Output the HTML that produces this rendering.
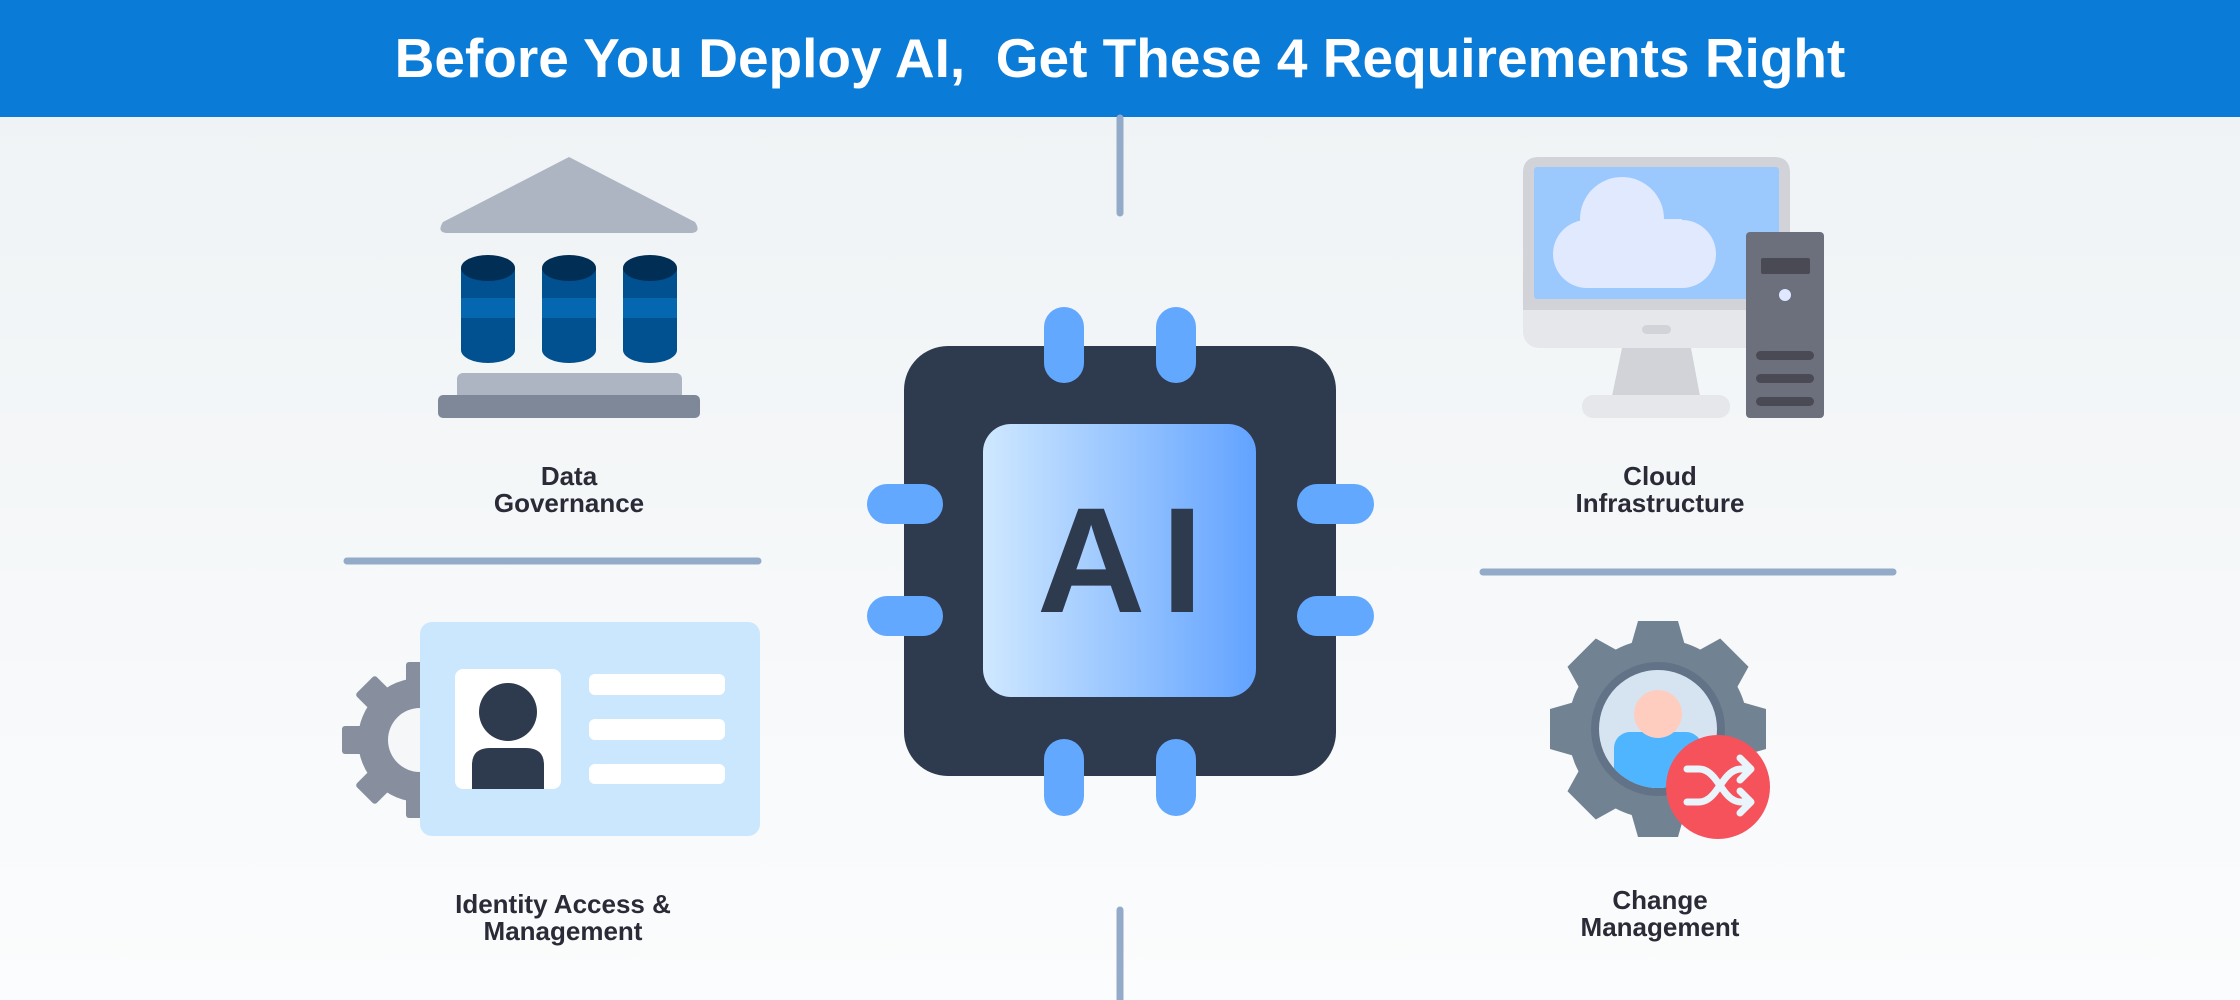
<!DOCTYPE html>
<html><head><meta charset="utf-8"><style>
html,body{margin:0;padding:0}
body{width:2240px;height:1000px;overflow:hidden;background:linear-gradient(#eef2f4,#fbfcfd);font-family:"Liberation Sans",sans-serif;position:relative}
.hdr{position:absolute;left:0;top:0;width:2240px;height:117px;background:#0a7bd7;color:#fff;font-weight:bold;font-size:55px;text-align:center;line-height:117px}
.lbl{position:absolute;width:400px;text-align:center;font-weight:bold;font-size:26px;line-height:27px;color:#2b2b38}
</style></head><body>
<div class="hdr">Before You Deploy AI,&nbsp; Get These 4 Requirements Right</div>
<svg width="2240" height="1000" style="position:absolute;left:0;top:0">
<defs><linearGradient id="g" x1="0" x2="1"><stop offset="0" stop-color="#cfe8ff"/><stop offset="1" stop-color="#62a3ff"/></linearGradient></defs>
<g stroke="#93abc8" stroke-width="7" stroke-linecap="round">
<line x1="1120" y1="118" x2="1120" y2="213"/><line x1="1120" y1="910" x2="1120" y2="1000"/>
<line x1="347" y1="561" x2="758" y2="561"/><line x1="1483" y1="572" x2="1893" y2="572"/>
</g>
<rect x="904" y="346" width="432" height="430" rx="44" fill="#2e3b4e"/>
<!-- chip pins -->
<g fill="#62a8ff">
<rect x="1044" y="307" width="40" height="76" rx="20"/><rect x="1156" y="307" width="40" height="76" rx="20"/>
<rect x="1044" y="739" width="40" height="77" rx="20"/><rect x="1156" y="739" width="40" height="77" rx="20"/>
<rect x="867" y="484" width="76" height="40" rx="20"/><rect x="867" y="596" width="76" height="40" rx="20"/>
<rect x="1297" y="484" width="77" height="40" rx="20"/><rect x="1297" y="596" width="77" height="40" rx="20"/>
</g>
<rect x="983" y="424" width="273" height="273" rx="28" fill="url(#g)"/>
<text x="1128" y="612" text-anchor="middle" font-family="Liberation Sans" font-weight="bold" font-size="150" letter-spacing="16" fill="#2e3b4e">AI</text>
<!-- data governance -->
<path d="M569 157 L695 222 Q702 233 690 233 L448 233 Q436 233 443 222 Z" fill="#aeb5c2"/>
<g>
<g transform="translate(488,0)"><rect x="-27" y="268" width="54" height="82" fill="#01508f"/><rect x="-27" y="298" width="54" height="20" fill="#0567b0"/><ellipse cx="0" cy="350" rx="27" ry="13" fill="#01508f"/><ellipse cx="0" cy="268" rx="27" ry="13" fill="#012e55"/></g>
<g transform="translate(569,0)"><rect x="-27" y="268" width="54" height="82" fill="#01508f"/><rect x="-27" y="298" width="54" height="20" fill="#0567b0"/><ellipse cx="0" cy="350" rx="27" ry="13" fill="#01508f"/><ellipse cx="0" cy="268" rx="27" ry="13" fill="#012e55"/></g>
<g transform="translate(650,0)"><rect x="-27" y="268" width="54" height="82" fill="#01508f"/><rect x="-27" y="298" width="54" height="20" fill="#0567b0"/><ellipse cx="0" cy="350" rx="27" ry="13" fill="#01508f"/><ellipse cx="0" cy="268" rx="27" ry="13" fill="#012e55"/></g>
</g>
<rect x="457" y="373" width="225" height="28" rx="6" fill="#aeb5c2"/>
<rect x="438" y="395" width="262" height="23" rx="5" fill="#7e8899"/>
<!-- cloud infra -->
<rect x="1523" y="157" width="267" height="191" rx="16" fill="#e6e7ea"/>
<path d="M1523 310 V173 Q1523 157 1539 157 H1774 Q1790 157 1790 173 V310 Z" fill="#d2d3d9"/>
<rect x="1534" y="167" width="245" height="132" rx="3" fill="#9bc9fd"/>
<g fill="#e0e9fe"><circle cx="1622" cy="219" r="42"/><circle cx="1682" cy="254" r="34"/><circle cx="1587" cy="254" r="34"/><rect x="1587" y="219" width="95" height="69"/></g>
<rect x="1642" y="325" width="29" height="9" rx="4.5" fill="#d2d3d9"/>
<path d="M1622 348 H1691 L1700 396 H1612 Z" fill="#d2d3d9"/>
<rect x="1582" y="395" width="148" height="23" rx="11" fill="#e6e7ea"/>
<rect x="1746" y="232" width="78" height="186" rx="4" fill="#6c6f7c"/>
<rect x="1761" y="258" width="49" height="16" rx="2" fill="#4a4a55"/>
<circle cx="1785" cy="295" r="6" fill="#e0e8ff"/>
<g fill="#4a4a55"><rect x="1756" y="351" width="58" height="9" rx="4.5"/><rect x="1756" y="374" width="58" height="9" rx="4.5"/><rect x="1756" y="397" width="58" height="9" rx="4.5"/></g>
<!-- identity gear -->
<g transform="translate(420,740)" fill="#878f9e">
<circle r="62"/>
<g id="t"><rect x="-14" y="-78" width="28" height="24" rx="3"/></g>
<use href="#t" transform="rotate(45)"/><use href="#t" transform="rotate(90)"/><use href="#t" transform="rotate(135)"/><use href="#t" transform="rotate(180)"/><use href="#t" transform="rotate(225)"/><use href="#t" transform="rotate(270)"/><use href="#t" transform="rotate(315)"/>
<circle r="32" fill="#f5f7f8"/>
</g>
<rect x="420" y="622" width="340" height="214" rx="12" fill="#cbe7fe"/>
<rect x="455" y="669" width="106" height="120" rx="8" fill="#fff"/>
<circle cx="508" cy="712" r="29" fill="#2e3b4e"/>
<path d="M472 789 V765 Q472 748 490 748 H526 Q544 748 544 765 V789 Z" fill="#2e3b4e"/>
<g fill="#fff"><rect x="589" y="674" width="136" height="21" rx="6"/><rect x="589" y="719" width="136" height="21" rx="6"/><rect x="589" y="764" width="136" height="20" rx="6"/></g>
<!-- change gear -->
<g transform="translate(1658,729)" fill="#718293">
<circle r="90"/>
<g id="t2"><path d="M-20 -108 H20 L28 -80 H-28 Z"/></g>
<use href="#t2" transform="rotate(45)"/><use href="#t2" transform="rotate(90)"/><use href="#t2" transform="rotate(135)"/><use href="#t2" transform="rotate(180)"/><use href="#t2" transform="rotate(225)"/><use href="#t2" transform="rotate(270)"/><use href="#t2" transform="rotate(315)"/>
<circle r="67" fill="#637387"/>
<circle r="59" fill="#d6e4f2"/>
</g>
<clipPath id="cc"><circle cx="1658" cy="729" r="59"/></clipPath>
<g clip-path="url(#cc)"><rect x="1614" y="732" width="88" height="70" rx="16" fill="#4fb5fe"/></g>
<circle cx="1658" cy="714" r="24" fill="#fecdc0"/>
<circle cx="1718" cy="787" r="52" fill="#f5525c"/>
<g fill="none" stroke="#eaf4fb" stroke-width="7" stroke-linecap="round" stroke-linejoin="round">
<path d="M1687 769 H1699 Q1708 769 1716 780 L1724 791 Q1732 802 1741 802 H1750"/>
<path d="M1687 802 H1699 Q1708 802 1716 791 L1724 780 Q1732 769 1741 769 H1750"/>
<path d="M1740 758 L1751 769 L1740 780"/><path d="M1740 791 L1751 802 L1740 813"/>
</g>
</svg>
<div class="lbl" style="left:369px;top:463px">Data<br>Governance</div>
<div class="lbl" style="left:1460px;top:463px">Cloud<br>Infrastructure</div>
<div class="lbl" style="left:363px;top:891px">Identity Access &amp;<br>Management</div>
<div class="lbl" style="left:1460px;top:887px">Change<br>Management</div>
</body></html>
